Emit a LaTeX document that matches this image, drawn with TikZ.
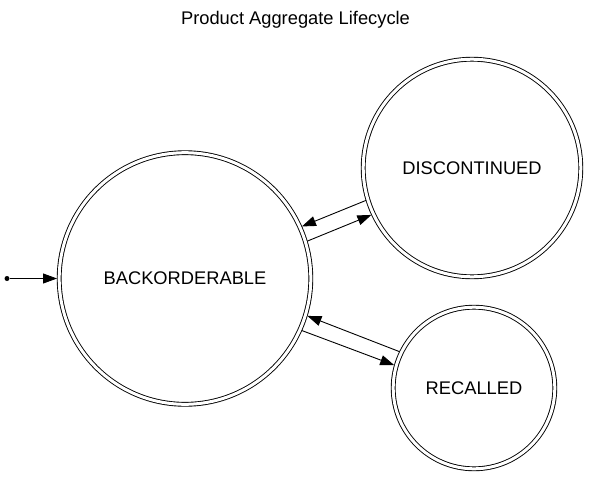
\documentclass[tikz,border=0pt]{standalone}
\usepackage{fontspec}
\setmainfont{Liberation Sans}
\usetikzlibrary{arrows.meta}

\begin{document}
\begin{tikzpicture}[
		x=1pt, y=-1pt,
		every node/.style={font=\fontsize{18.3}{22}\selectfont},
		state/.style={draw, circle, line width=0.9pt, double, double distance=3pt,
		              inner sep=0pt, outer sep=2.2pt},
		trans/.style={-{Triangle[length=14pt, width=10pt]}, line width=0.9pt}
	]
	\useasboundingbox (0,0) rectangle (590,477);
	\node (title) at (295.5,20) {Product Aggregate Lifecycle};
	\node[state, minimum size=251.6pt] (back) at (185,278.5) {BACKORDERABLE};
	\node[state, minimum size=217.6pt] (disc) at (472,168) {DISCONTINUED};
	\node[state, minimum size=161.6pt] (rec) at (474,388) {RECALLED};
	\node[circle, fill, inner sep=0pt, minimum size=5pt] (init) at (7,278.5) {};
	\draw[trans] (init) -- (back);
	\draw[trans] (back.17.4) -- (disc.205.6);
	\draw[trans] (disc.197.9) -- (back.24.6);
	\draw[trans] (rec.154.3) -- (back.-17.1);
	\draw[trans] (back.-24.4) -- (rec.164.1);
\end{tikzpicture}
\end{document}
